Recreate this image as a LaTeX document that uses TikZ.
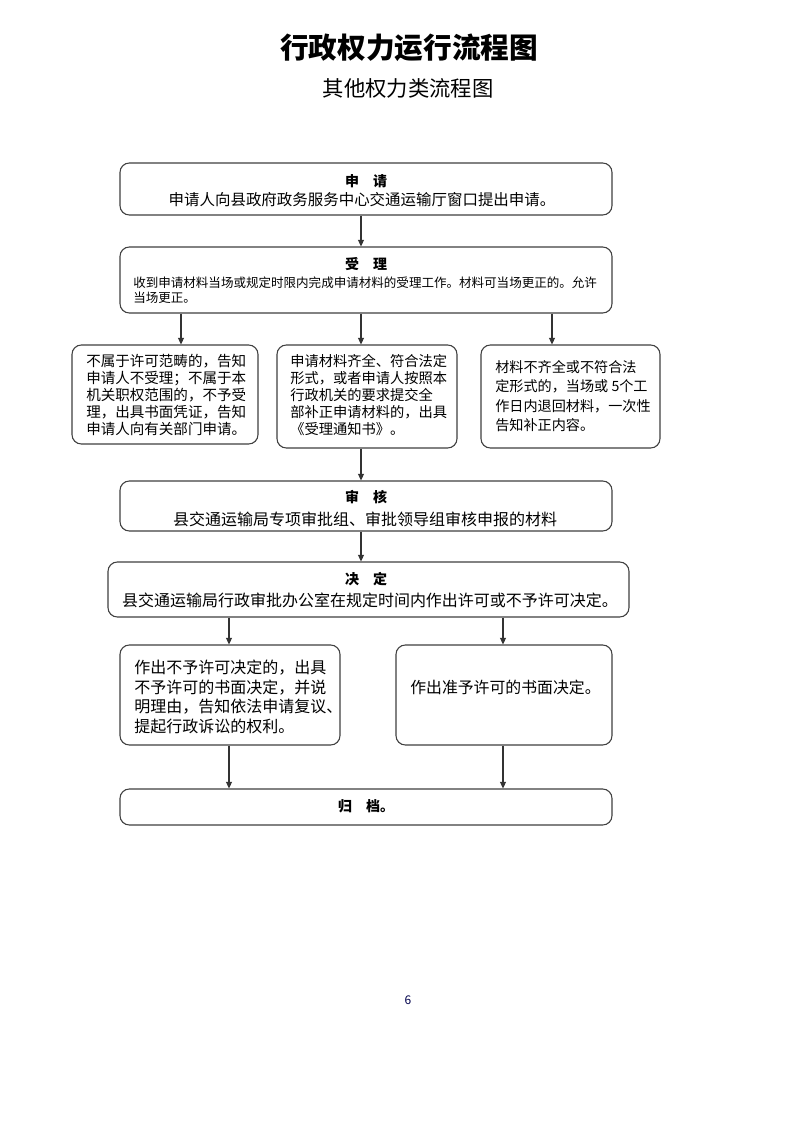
\documentclass[tikz,border=0pt]{standalone}
\usepackage{fontspec}
\setmainfont{Noto Sans CJK SC}
\usetikzlibrary{arrows.meta}
\begin{document}
\begin{tikzpicture}[x=0.75pt,y=-0.75pt,
  box/.style={draw=black!75,line width=0.8pt,rounded corners=7pt,inner sep=0pt},
  bw/.style={minimum width=#1*0.75pt},
  bh/.style={minimum height=#1*0.75pt},
  arr/.style={draw=black!80,line width=0.8pt,-{Triangle[length=5pt,width=4.5pt]}},
  ttl/.style={inner sep=0pt,font=\bfseries\fontsize{10.5}{12}\selectfont},
  txt/.style={inner sep=0pt,align=left}]
\useasboundingbox[fill=white] (0,0) rectangle (793,1122);
% titles
\node[inner sep=0pt,font=\bfseries\fontsize{21.5}{24}\selectfont] (t1) at (409,48) {行政权力运行流程图};
\node[inner sep=0pt,font=\fontsize{16}{18}\selectfont] (t2) at (408,88) {其他权力类流程图};
% boxes
\node[box,bw=492,bh=52] (sq) at (366,189) {};
\node[box,bw=492,bh=66] (sl) at (366,280) {};
\node[box,bw=186,bh=99] (l1) at (165,394.5) {};
\node[box,bw=180,bh=103] (m1) at (367,396.5) {};
\node[box,bw=179,bh=103] (r1) at (570.5,396.5) {};
\node[box,bw=492,bh=50] (sh) at (366,506) {};
\node[box,bw=521,bh=55] (jd) at (368.5,589.5) {};
\node[box,bw=220,bh=100] (bl) at (230,695) {};
\node[box,bw=216,bh=100] (br) at (504,695) {};
\node[box,bw=492,bh=36] (gd) at (366,807) {};
% texts
\node[ttl] (sqT) at (366,181) {申\quad 请};
\node[txt,font=\fontsize{11.6}{13}\selectfont] (sqB) at (362,200) {申请人向县政府政务服务中心交通运输厅窗口提出申请。};
\node[ttl] (slT) at (366,264) {受\quad 理};
\node[txt,anchor=west,font=\fontsize{9.4}{11.3}\selectfont] (slB) at (133,290.5) {收到申请材料当场或规定时限内完成申请材料的受理工作。材料可当场更正的。允许\\当场更正。};
\node[txt,anchor=west,font=\fontsize{10.9}{12.8}\selectfont] (l1B) at (86,395) {不属于许可范畴的，告知\\申请人不受理；不属于本\\机关职权范围的，不予受\\理，出具书面凭证，告知\\申请人向有关部门申请。};
\node[txt,anchor=west,font=\fontsize{10.7}{12.8}\selectfont] (m1B) at (290,395) {申请材料齐全、符合法定\\形式，或者申请人按照本\\行政机关的要求提交全\\部补正申请材料的，出具\\《受理通知书》。};
\node[txt,anchor=west,font=\fontsize{10.6}{14.6}\selectfont] (r1B) at (495,396) {材料不齐全或不符合法\\定形式的，当场或 5个工\\作日内退回材料，一次性\\告知补正内容。};
\node[ttl] (shT) at (366,497) {审\quad 核};
\node[txt,font=\fontsize{12}{14}\selectfont] (shB) at (365,519) {县交通运输局专项审批组、审批领导组审核申报的材料};
\node[ttl] (jdT) at (366,579) {决\quad 定};
\node[txt,font=\fontsize{12}{14}\selectfont] (jdB) at (370,600) {县交通运输局行政审批办公室在规定时间内作出许可或不予许可决定。};
\node[txt,anchor=west,font=\fontsize{12}{14.6}\selectfont] (blB) at (134,697) {作出不予许可决定的，出具\\不予许可的书面决定，并说\\明理由，告知依法申请复议、\\提起行政诉讼的权利。};
\node[txt,anchor=west,font=\fontsize{11.9}{14}\selectfont] (brB) at (410,687) {作出准予许可的书面决定。};
\node[ttl] (gdT) at (366,806) {归\quad 档。};
\node[inner sep=0pt,font=\fontsize{9}{11}\selectfont,text=black!70!blue] (pg) at (408,1000) {6};
% arrow x positions
\coordinate (xa) at (361,0);
\coordinate (xl) at (181,0);
\coordinate (xr) at (552,0);
\coordinate (xbl) at (229,0);
\coordinate (xbr) at (503,0);
% arrows
\draw[arr] (sq.south -| xa) -- (sl.north -| xa);
\draw[arr] (sl.south -| xl) -- (l1.north -| xl);
\draw[arr] (sl.south -| xa) -- (m1.north -| xa);
\draw[arr] (sl.south -| xr) -- (r1.north -| xr);
\draw[arr] (m1.south -| xa) -- (sh.north -| xa);
\draw[arr] (sh.south -| xa) -- (jd.north -| xa);
\draw[arr] (jd.south -| xbl) -- (bl.north -| xbl);
\draw[arr] (jd.south -| xbr) -- (br.north -| xbr);
\draw[arr] (bl.south -| xbl) -- (gd.north -| xbl);
\draw[arr] (br.south -| xbr) -- (gd.north -| xbr);
\end{tikzpicture}
\end{document}
